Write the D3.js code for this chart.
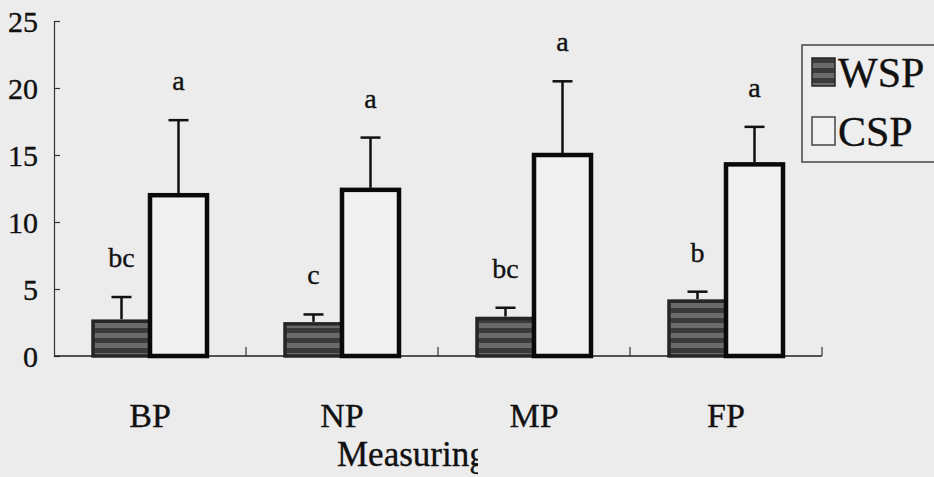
<!DOCTYPE html>
<html>
<head>
<meta charset="utf-8">
<script src="https://cdn.jsdelivr.net/npm/d3@7"></script>
<style>
  html, body { margin: 0; padding: 0; background: #ececec; }
  svg { display: block; }
  text { font-family: "Liberation Serif", "Times New Roman", serif; fill: #111; stroke: #111; stroke-width: 0.35px; }
</style>
</head>
<body>
<svg id="chart" width="934" height="477"></svg>
<script>
const categories = ["BP", "NP", "MP", "FP"];
const series = ["WSP", "CSP"];
const wspValues = [2.6, 2.4, 2.8, 4.1];
const wspErrors = [1.8, 0.7, 0.8, 0.7];
const cspValues = [12.0, 12.4, 15.0, 14.3];
const cspErrors = [5.6, 3.9, 5.5, 2.8];
const wspLetters = ["bc", "c", "bc", "b"];
const cspLetters = ["a", "a", "a", "a"];
const yTicks = [0, 5, 10, 15, 20, 25];
const xTitle = "Measuring";

const svg = d3.select("#chart");
const margin = { left: 54, right: 112, top: 21, bottom: 121 };
const W = 934, H = 477;
const serif = '"Liberation Serif", "Times New Roman", serif';

const x = d3.scaleBand().domain(categories).range([margin.left, W - margin.right]).padding(0);
const xs = d3.scaleBand().domain(series).range([39, x.bandwidth() - 39]).padding(0);
const y = d3.scaleLinear().domain([0, 25]).range([H - margin.bottom, margin.top]);

const data = [];
categories.forEach((c, i) => {
  data.push({ cat: c, s: "WSP", v: wspValues[i], e: wspErrors[i], l: wspLetters[i] });
  data.push({ cat: c, s: "CSP", v: cspValues[i], e: cspErrors[i], l: cspLetters[i] });
});

// pattern for WSP
const defs = svg.append("defs");
const pat = defs.append("pattern").attr("id", "wsp").attr("patternUnits", "userSpaceOnUse")
  .attr("width", 8).attr("height", 10);
pat.append("rect").attr("width", 8).attr("height", 10).attr("fill", "#3a3a3a");
pat.append("rect").attr("y", 3).attr("width", 8).attr("height", 5).attr("fill", "#6a6a6a");

// y axis
const yAxis = d3.axisRight(y).tickValues(yTicks).tickSize(6).tickFormat(d3.format("d"));
const gy = svg.append("g").attr("transform", `translate(${margin.left},0)`).call(yAxis)
  .attr("font-family", serif);
gy.select(".domain").attr("stroke", "#333").attr("stroke-width", 1.2);
gy.selectAll(".tick line").attr("stroke", "#333").attr("stroke-width", 1.2);
gy.selectAll(".tick text")
  .attr("x", -16).attr("dy", "0.35em")
  .attr("text-anchor", "end")
  .style("font-size", "30px").style("font-family", serif).attr("fill", "#111");

// x axis
const xAxisY = y(0);
const bounds = categories.map(c => x(c) + x.bandwidth());
svg.append("line").attr("x1", margin.left).attr("x2", W - margin.right)
  .attr("y1", xAxisY).attr("y2", xAxisY).attr("stroke", "#222").attr("stroke-width", 1.5);
svg.selectAll(".xtick").data(bounds).join("line")
  .attr("x1", d => d).attr("x2", d => d)
  .attr("y1", xAxisY).attr("y2", xAxisY - 9)
  .attr("stroke", "#333").attr("stroke-width", 1.2);

// bars
const g = svg.append("g");
g.selectAll("rect.bar").data(data).join("rect")
  .attr("class", "bar")
  .attr("x", d => x(d.cat) + xs(d.s))
  .attr("width", xs.bandwidth())
  .attr("y", d => y(d.v))
  .attr("height", d => y(0) - y(d.v))
  .attr("fill", d => d.s === "WSP" ? "url(#wsp)" : "#f1f1f1")
  .attr("stroke", d => d.s === "WSP" ? "#262626" : "#0a0a0a")
  .attr("stroke-width", d => d.s === "WSP" ? 3.5 : 4.5);

// error bars
const cx = d => x(d.cat) + xs(d.s) + xs.bandwidth() / 2;
g.selectAll("line.err").data(data).join("line")
  .attr("x1", cx).attr("x2", cx)
  .attr("y1", d => y(d.v) - 2).attr("y2", d => y(d.v + d.e))
  .attr("stroke", "#111").attr("stroke-width", 2.5);
g.selectAll("line.cap").data(data).join("line")
  .attr("x1", d => cx(d) - 10).attr("x2", d => cx(d) + 10)
  .attr("y1", d => y(d.v + d.e)).attr("y2", d => y(d.v + d.e))
  .attr("stroke", "#111").attr("stroke-width", 2.5);

// letters
g.selectAll("text.letter").data(data).join("text")
  .attr("x", cx)
  .attr("y", d => y(d.v + d.e) - 30)
  .attr("text-anchor", "middle")
  .style("font-size", "28px")
  .text(d => d.l);

// category labels
svg.selectAll("text.cat").data(categories).join("text")
  .attr("x", d => x(d) + x.bandwidth() / 2)
  .attr("y", 427)
  .attr("text-anchor", "middle")
  .style("font-size", "34px")
  .text(d => d);

// axis title (clipped as in reference)
defs.append("clipPath").attr("id", "titleclip")
  .append("rect").attr("x", 300).attr("y", 430).attr("width", 178).attr("height", 47);
svg.append("text")
  .attr("x", 337).attr("y", 466)
  .attr("clip-path", "url(#titleclip)")
  .style("font-size", "35px")
  .text(xTitle);

// legend
const lg = svg.append("g");
lg.append("rect").attr("x", 802).attr("y", 45).attr("width", 150).attr("height", 117)
  .attr("fill", "#eeeeee").attr("stroke", "#444").attr("stroke-width", 1.5);
const legendItems = series.map((s, i) => ({ s, i }));
lg.selectAll("rect.sw").data(legendItems).join("rect")
  .attr("x", 812).attr("y", d => 58 + d.i * 59)
  .attr("width", 23).attr("height", 28)
  .attr("fill", d => d.s === "WSP" ? "url(#wsp)" : "#f1f1f1")
  .attr("stroke", d => d.s === "WSP" ? "#262626" : "#444")
  .attr("stroke-width", 1.5);
lg.selectAll("text.lt").data(legendItems).join("text")
  .attr("x", 838).attr("y", d => 87 + d.i * 59)
  .style("font-size", "42px")
  .text(d => d.s);
</script>
</body>
</html>
